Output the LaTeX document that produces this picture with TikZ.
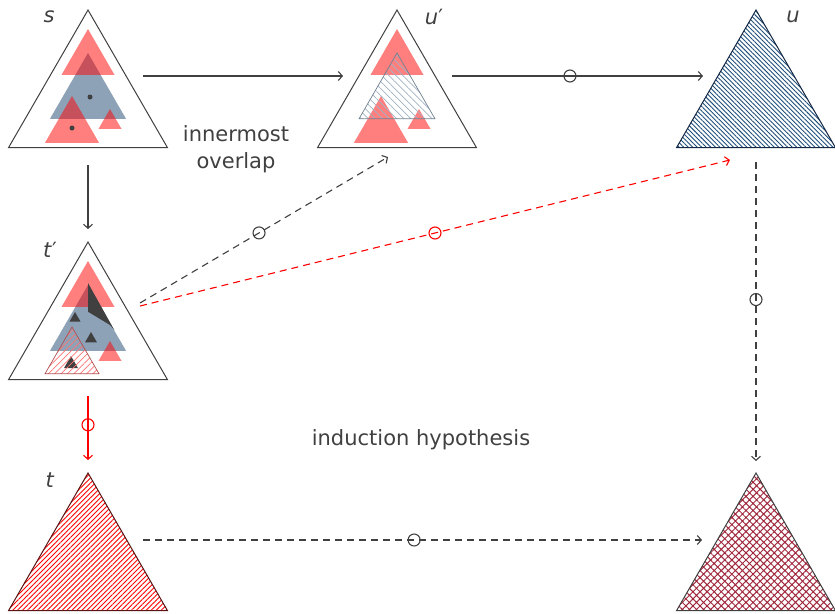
\documentclass[tikz,border=0pt]{standalone}
\usepackage{fontspec}
\setmainfont{DejaVu Sans}
\usetikzlibrary{patterns.meta,arrows.meta}
\definecolor{txt}{HTML}{404040}
\definecolor{ln}{HTML}{404040}
\definecolor{bluet}{HTML}{1C4670}
\definecolor{uhatch}{HTML}{1F4E79}
\definecolor{xhatch}{HTML}{A0283C}
\definecolor{lhatch}{HTML}{A0B2C4}
\newcommand\eqtri[4][]{\path[#1] (#2,#3) -- ({#2-#4/2},{#3+0.866*#4}) -- ({#2+#4/2},{#3+0.866*#4}) -- cycle;}
\tikzset{
  big/.style={draw=ln,line width=1pt,line join=miter},
  redt/.style={fill=red,fill opacity=0.5},
  bluetri/.style={fill=bluet,fill opacity=0.5},
  darkt/.style={fill=ln},
  lbl/.style={text=txt,font=\fontsize{21}{25}\selectfont,anchor=base,inner sep=0pt},
  conn/.style={draw=ln,line width=1.1pt,-{Straight Barb[length=4pt,width=9pt]}},
  redconn/.style={conn,draw=red},
  dashy/.style={dash pattern=on 7pt off 5pt},
  ring/.style={circle,draw,solid,inner sep=0pt,minimum size=12pt,fill=none,line width=1.1pt},
}
\begin{document}
\begin{tikzpicture}[x=1pt,y=-1pt]
\useasboundingbox (0,0) rectangle (835,613);
% ---------- s ----------
\eqtri[big]{88}{10}{159}
\eqtri[bluetri]{88}{53}{76}
\eqtri[redt]{88}{29}{53}
\eqtri[redt]{72}{96}{54}
\eqtri[redt]{110}{109}{23}
\fill[ln] (90,97) circle (2.5);
\fill[ln] (72,128) circle (2.5);
\node[lbl] (ls) at (49,22) {\textit{s}};
% ---------- u' ----------
\eqtri[big]{397}{10}{159}
\eqtri[redt]{397}{29}{53}
\eqtri[redt]{381}{96}{54}
\eqtri[redt]{419}{109}{23}
\eqtri[draw={rgb,255:red,112;green,128;blue,144},line width=0.7pt,pattern={Lines[angle=-45,distance=5pt,line width=0.7pt]},pattern color=lhatch]{397}{53}{76}
\node[lbl] (lu2) at (434,24) {\textit{u}′};
% ---------- u ----------
\eqtri[draw={rgb,255:red,20;green,40;blue,70},line width=1pt,pattern={Lines[angle=-45,distance=3.2pt,line width=0.9pt]},pattern color=uhatch]{756}{10}{159}
\node[lbl] (lu) at (793,22) {\textit{u}};
% ---------- t' ----------
\eqtri[big]{88}{242}{159}
\eqtri[bluetri]{88}{285}{76}
\eqtri[redt]{88}{261}{53}
\fill[darkt] (88,283) -- (114.3,330) -- (110,325) -- (88,311.7) -- cycle;
\eqtri[darkt]{75}{312}{11}
\eqtri[darkt]{91}{332}{12}
\eqtri[darkt]{71}{356}{14}
\eqtri[draw={rgb,255:red,176;green,80;blue,80},line width=0.7pt,pattern={Lines[angle=45,distance=4.5pt,line width=0.7pt]},pattern color=red!55]{72}{327}{54}
\eqtri[redt]{110}{341}{23}
\node[lbl] (lt2) at (50,257) {\textit{t}′};
% ---------- t ----------
\eqtri[draw={rgb,255:red,90;green,20;blue,20},line width=1pt,pattern={Lines[angle=45,distance=3.5pt,line width=0.9pt]},pattern color=red]{88}{473}{159}
\node[lbl] (lt) at (50,487) {\textit{t}};
% ---------- bottom right ----------
\eqtri[draw=ln,line width=1pt,pattern={Hatch[angle=45,distance=5pt,line width=1pt]},pattern color=xhatch]{756}{473}{159}
% ---------- texts ----------
\node[text=txt,font=\fontsize{21}{27}\selectfont,align=center,anchor=base,inner sep=0pt] (inner) at (236,168) {innermost\\overlap};
\node[lbl] (ind) at (421,445) {induction hypothesis};
% ---------- connector ends ----------
\coordinate (s-r) at (143,76);
\coordinate (u2-l) at (343,76);
\coordinate (u2-r) at (452,76);
\coordinate (u-l) at (703,76);
\coordinate (s-b) at (88,165);
\coordinate (t2-t) at (88,229);
\coordinate (t2-r1) at (140,303);
\coordinate (u2-b) at (388,157);
\coordinate (t2-r2) at (140,306);
\coordinate (u-bl) at (730,160);
\coordinate (u-b) at (756,162);
\coordinate (x-t) at (756,461);
\coordinate (t2-b) at (88,396);
\coordinate (t-t) at (88,460);
\coordinate (t-r) at (143,540);
\coordinate (x-l) at (702,540);
% ---------- connectors ----------
\draw[conn] (s-r) -- (u2-l);
\draw[conn] (u2-r) -- node[ring,pos=0.47] (r1) {} (u-l);
\draw[conn] (s-b) -- (t2-t);
\draw[conn,dashy] (t2-r1) -- node[ring,pos=0.48] (r2) {} (u2-b);
\draw[redconn,dashy] (t2-r2) -- node[ring,draw=red,pos=0.5] (r3) {} (u-bl);
\draw[conn,dashy] (u-b) -- node[ring,pos=0.46] (r4) {} (x-t);
\draw[redconn] (t2-b) -- node[ring,draw=red,pos=0.45] (r5) {} (t-t);
\draw[conn,dashy] (t-r) -- node[ring,pos=0.485] (r6) {} (x-l);
\end{tikzpicture}
\end{document}
